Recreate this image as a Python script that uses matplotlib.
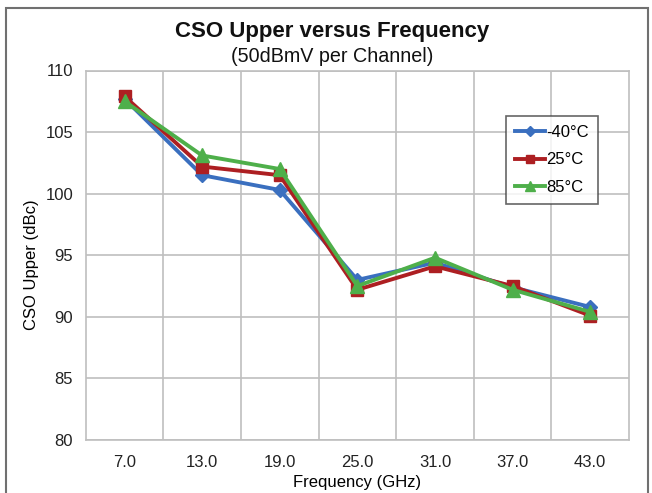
import matplotlib
matplotlib.use("Agg")
import matplotlib.pyplot as plt
from matplotlib.patches import Rectangle

plt.rcParams['font.family'] = ['Liberation Sans', 'DejaVu Sans']

categories = ["7.0", "13.0", "19.0", "25.0", "31.0", "37.0", "43.0"]
series_names = ["-40°C", "25°C", "85°C"]
vals_m40 = [107.7, 101.5, 100.3, 93.0, 94.4, 92.4, 90.8]
vals_25 = [107.9, 102.2, 101.5, 92.2, 94.1, 92.5, 90.1]
vals_85 = [107.5, 103.1, 102.0, 92.5, 94.8, 92.2, 90.4]
colors = ["#3A6FBF", "#AD1F22", "#4EAF4A"]
markers = ["D", "s", "^"]
msizes = [7, 9, 10]

fig = plt.figure(figsize=(6.52, 4.93), dpi=100)
ax = fig.add_axes([85.7/652, 1-440/493, (629-85.7)/652, (440-70.5)/493])

x = list(range(len(categories)))
for vals, name, c, m, ms in zip([vals_m40, vals_25, vals_85], series_names, colors, markers, msizes):
    ax.plot(x, vals, color=c, lw=2.8, marker=m, ms=ms, label=name, zorder=3)

ax.set_xlim(-0.5, len(categories) - 0.5)
ax.set_ylim(80, 110)
ax.set_yticks([80, 85, 90, 95, 100, 105, 110])
ax.set_xticks(x)
ax.set_xticklabels(categories)
ax.set_xticks([i + 0.5 for i in x[:-1]], minor=True)
ax.tick_params(axis='both', which='both', length=0, labelsize=12, colors='#222222')
ax.tick_params(axis='y', pad=9)
ax.tick_params(axis='x', pad=11)
ax.grid(True, axis='y', which='major', color='#BFBFBF', lw=1.2)
ax.grid(True, axis='x', which='minor', color='#BFBFBF', lw=1.2)
for s in ax.spines.values():
    s.set_color('#BFBFBF')
    s.set_linewidth(1.2)

ax.set_xlabel("Frequency (GHz)", fontsize=12)
ax.set_ylabel("CSO Upper (dBc)", fontsize=12)
ax.xaxis.set_label_coords(0.5 * (293 + 422) / 652 * 652 / 543.3 - 85.7 / 543.3, -(483 - 440) / 369.5)
ax.yaxis.set_label_coords((32 - 85.7) / 543.3, (440 - 265) / 369.5)
ax.xaxis.label.set_va('center')
ax.yaxis.label.set_va('center')

cx = 332 / 652
fig.text(cx, 1 - 32/493, "CSO Upper versus Frequency", ha='center', va='center',
         fontsize=16, fontweight='bold', color='#111111')
fig.text(cx, 1 - 56/493, "(50dBmV per Channel)", ha='center', va='center',
         fontsize=14.2, color='#111111')

leg = ax.legend(loc='upper left', bbox_to_anchor=((505.7 - 85.7) / (629 - 85.7), 1 - (115.7 - 70.5) / (440 - 70.5)),
                fontsize=12, frameon=True, fancybox=False, handlelength=1.8, handletextpad=0.1,
                labelspacing=0.75, borderpad=0.55, borderaxespad=0, markerscale=0.7)
leg.get_frame().set_edgecolor('#404040')
leg.get_frame().set_linewidth(1.2)

fig.patches.append(Rectangle((6/652, -0.1), (648 - 6)/652, 1.1 - 8/493, transform=fig.transFigure,
                             fill=False, edgecolor='#707070', lw=1.5))

fig.savefig("out.png", dpi=100)
